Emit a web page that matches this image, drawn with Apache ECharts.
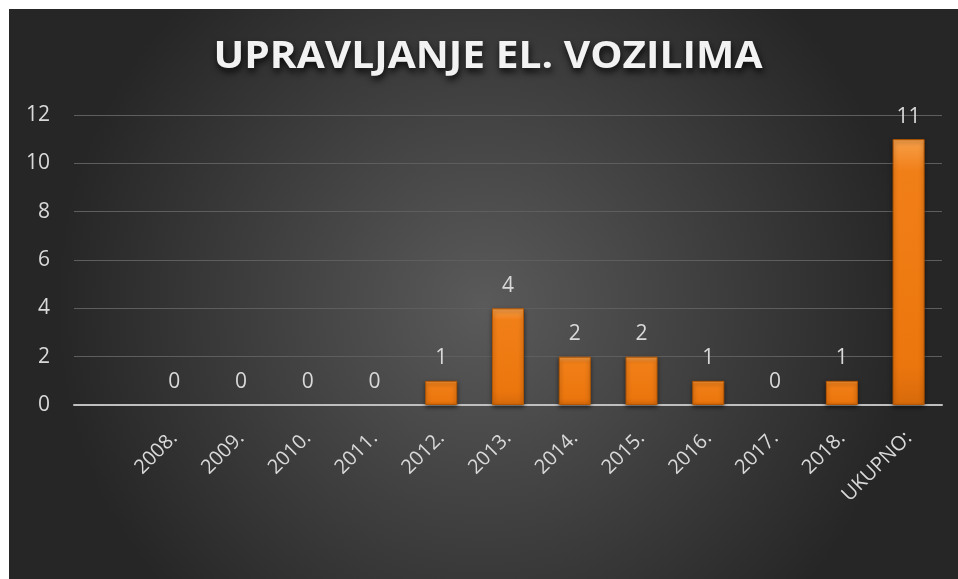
<!DOCTYPE html>
<html>
<head>
<meta charset="utf-8">
<script src="https://cdn.jsdelivr.net/npm/echarts@6/dist/echarts.min.js"></script>
<style>
  html, body { margin: 0; padding: 0; background: #ffffff; }
  #main { position: absolute; left: 9px; top: 9px; width: 949px; height: 570px; }
</style>
</head>
<body>
<div id="main"></div>
<script>
// first slot is an empty category, as in the original chart
var categories = ["", "2008.", "2009.", "2010.", "2011.", "2012.", "2013.", "2014.", "2015.", "2016.", "2017.", "2018.", "UKUPNO:"];
var counts = ["-", 0, 0, 0, 0, 1, 4, 2, 2, 1, 0, 1, 11];
var yTicks = { min: 0, max: 12, interval: 2 };
var titleText = "UPRAVLJANJE EL. VOZILIMA";

var barFill = {
  type: "linear", x: 0, y: 0, x2: 0, y2: 1,
  colorStops: [
    { offset: 0, color: "#f7a04a" },
    { offset: 0.12, color: "#f17f18" },
    { offset: 0.85, color: "#ec760e" },
    { offset: 1, color: "#d86a0a" }
  ]
};

// zero-height bars are not drawn, only their label
var barData = counts.map(function (v) {
  if (v === 0) {
    return { value: v, itemStyle: { opacity: 0 }, label: { opacity: 1 } };
  }
  return v;
});

var chartDom = document.getElementById("main");
var myChart = echarts.init(chartDom);
var option = {
  backgroundColor: {
    type: "radial",
    x: 0.5, y: 0.52, r: 0.75,
    colorStops: [
      { offset: 0, color: "#5a5a5a" },
      { offset: 1, color: "#262626" }
    ]
  },
  graphic: [
    {
      type: "text",
      x: 479,
      y: 48,
      scaleX: 1.1,
      style: {
        text: titleText,
        fontFamily: "Open Sans",
        fontWeight: "bold",
        fontSize: 37,
        fill: "#f2f2f2",
        align: "center",
        verticalAlign: "middle",
        textShadowColor: "rgba(0,0,0,0.85)",
        textShadowBlur: 7,
        textShadowOffsetX: 1,
        textShadowOffsetY: 4
      }
    }
  ],
  grid: { left: 65, right: 16, top: 106, bottom: 174 },
  xAxis: {
    type: "category",
    data: categories,
    axisLine: { lineStyle: { color: "#bfbfbf", width: 2 } },
    axisTick: { show: false },
    axisLabel: {
      rotate: 45,
      interval: 0,
      margin: 30,
      color: "#d9d9d9",
      fontFamily: "Open Sans",
      fontSize: 20
    }
  },
  yAxis: {
    type: "value",
    min: yTicks.min,
    max: yTicks.max,
    interval: yTicks.interval,
    axisLine: { show: false },
    axisTick: { show: false },
    axisLabel: {
      margin: 24,
      color: "#d9d9d9",
      fontFamily: "Open Sans",
      fontSize: 21
    },
    splitLine: { lineStyle: { color: "#5e5e5e", width: 1 } }
  },
  series: [
    {
      type: "bar",
      data: barData,
      barWidth: 32,
      itemStyle: {
        color: barFill,
        borderColor: "#b55600",
        borderWidth: 1,
        shadowColor: "rgba(0,0,0,0.5)",
        shadowBlur: 4,
        shadowOffsetY: 2
      },
      label: {
        show: true,
        position: "top",
        distance: 12,
        color: "#d9d9d9",
        fontFamily: "Open Sans",
        fontSize: 21
      }
    }
  ]
};
myChart.setOption(option);
</script>
</body>
</html>
